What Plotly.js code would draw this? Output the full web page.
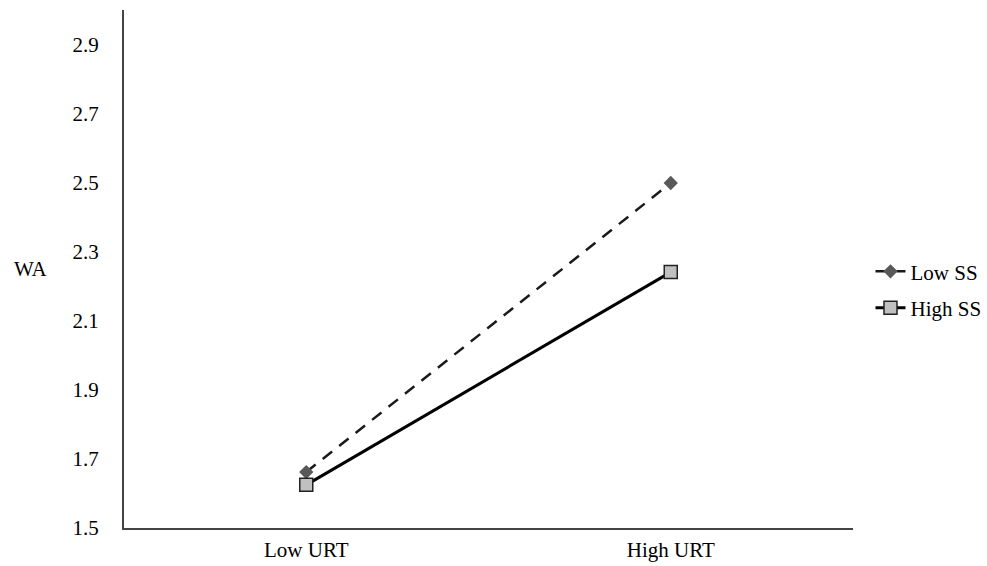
<!DOCTYPE html>
<html>
<head>
<meta charset="utf-8">
<script src="https://cdn.plot.ly/plotly-3.0.1.min.js"></script>
<style>html,body{margin:0;padding:0;background:#fff;}#chart{width:987px;height:566px;}</style>
</head>
<body>
<div id="chart"></div>
<script>
const categories = ["Low URT", "High URT"];
const seriesNames = ["Low SS", "High SS"];
const lowSS = [1.662, 2.499];
const highSS = [1.625, 2.241];
const yTicks = [1.5, 1.7, 1.9, 2.1, 2.3, 2.5, 2.7, 2.9];
const yTitle = "WA";

const font = "'Liberation Serif', 'Times New Roman', serif";
const fs = 21;

const traces = [
  {
    x: categories, y: lowSS, name: seriesNames[0], type: "scatter", mode: "lines+markers",
    legendgroup: "a",
    line: {color: "#1a1a1a", width: 2.5, dash: "12px,9px"},
    marker: {symbol: "diamond", size: 11, color: "#595959", line: {color: "#595959", width: 0}}
  },
  {
    x: categories, y: highSS, name: seriesNames[1], type: "scatter", mode: "lines+markers",
    legendgroup: "b",
    line: {color: "#000000", width: 3},
    marker: {symbol: "square", size: 13, color: "#c0c0c0", line: {color: "#222", width: 1.5}}
  }
];

const layout = {
  width: 987, height: 566,
  margin: {l: 124, r: 134, t: 10, b: 38, autoexpand: false},
  paper_bgcolor: "#fff", plot_bgcolor: "#fff",
  font: {family: font, size: fs, color: "#000"},
  showlegend: true,
  legend: {x: 1.024, xanchor: "left", y: 0.46, yanchor: "middle", traceorder: "grouped", tracegroupgap: 6,
           font: {family: font, size: fs, color: "#000"}, bgcolor: "rgba(0,0,0,0)"},
  xaxis: {
    type: "category", range: [-0.5, 1.5], showgrid: false, zeroline: false, automargin: false,
    showline: true, linecolor: "#444", linewidth: 2, ticks: "", ticklabelstandoff: 2,
    tickfont: {family: font, size: fs, color: "#000"}
  },
  yaxis: {
    range: [1.5, 3.0], tickvals: yTicks, ticktext: yTicks.map(v => v.toFixed(1)), automargin: false,
    showgrid: false, zeroline: false, showline: true, linecolor: "#444", linewidth: 2,
    ticks: "", ticklabelstandoff: 19, tickfont: {family: font, size: fs, color: "#000"}
  },
  annotations: [
    {text: yTitle, xref: "paper", yref: "paper", x: -0.128, y: 0.5, xanchor: "center", yanchor: "middle",
     showarrow: false, font: {family: font, size: fs, color: "#000"}}
  ]
};

Plotly.newPlot("chart", traces, layout, {displayModeBar: false, staticPlot: true});
</script>
</body>
</html>
